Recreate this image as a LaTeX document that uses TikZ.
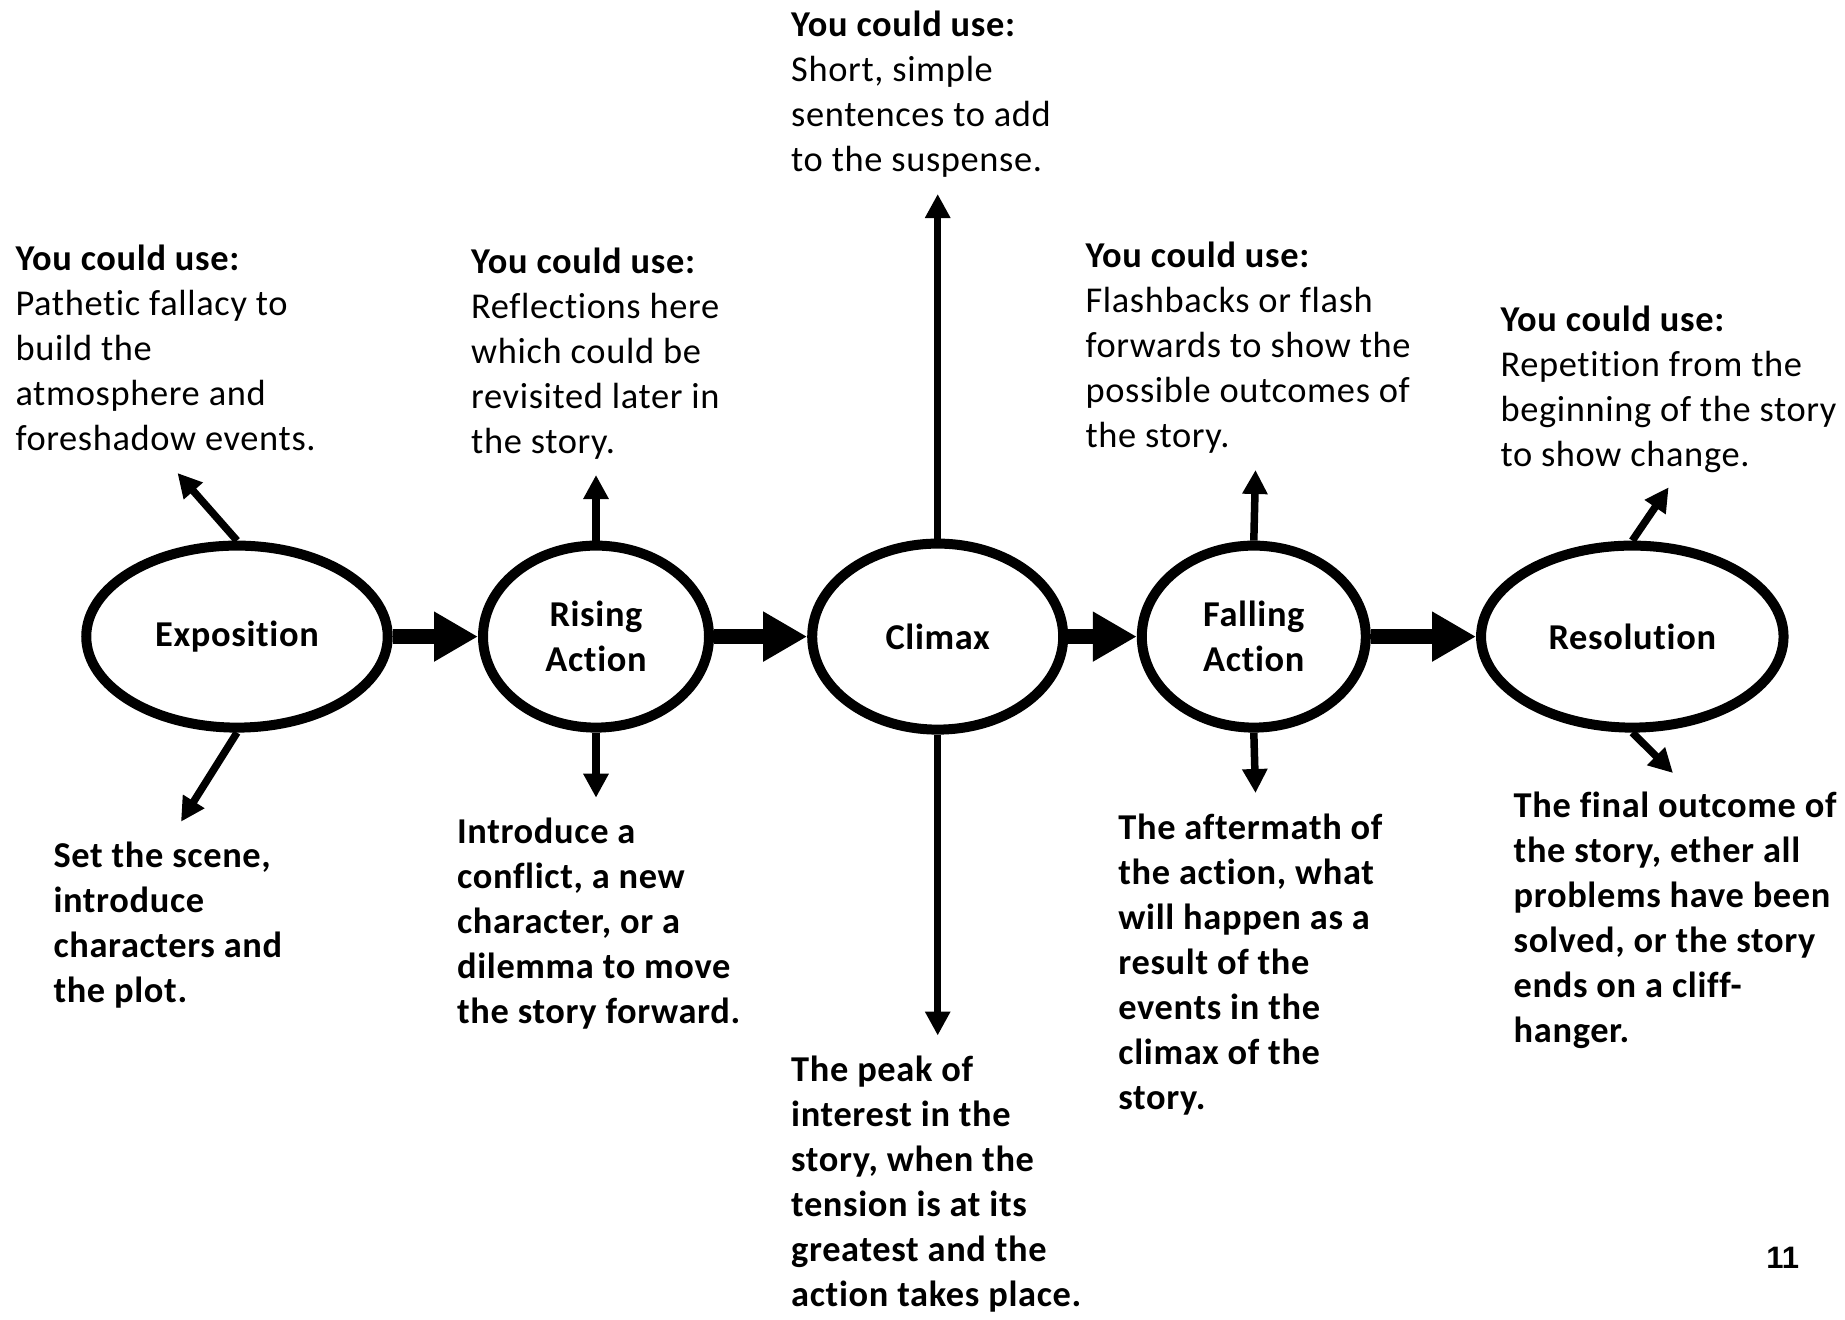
\documentclass[tikz,border=0pt]{standalone}
\usepackage{fontspec}
\setmainfont{Carlito}[Ligatures=NoCommon, LetterSpace=1.8]
\newfontfamily\arialfont{Liberation Sans}
\usetikzlibrary{arrows.meta,shapes.geometric}
% left-aligned block whose baseline is that of its first line
\newcommand\blk[1]{\begin{tabular}[t]{@{}l@{}}#1\end{tabular}}
\newcommand\bodyfont{\fontsize{14.56}{18}\selectfont}
\begin{document}
\begin{tikzpicture}[x=0.4pt,y=-0.4pt,
  stage/.style={ellipse, draw, line width=4pt, minimum height=72.8pt,
    inner sep=0pt, align=center, fill=white, font=\bodyfont\bfseries},
  flow/.style={line width=6pt, -{Triangle[length=17.6pt,width=18.8pt]}},
  hint/.style={line width=3pt, -{Triangle[length=9.6pt,width=9.6pt]}},
  txt/.style={anchor=base west, inner sep=0pt, font=\bodyfont},
  btxt/.style={anchor=base west, inner sep=0pt, font=\bodyfont\bfseries}]
\useasboundingbox (0,0) rectangle (1845,1319);

% stages of the story
\node[stage, minimum width=120.6pt] (expo) at (237,636.6) {Exposition};
\node[stage, minimum width=90.4pt] (rise) at (596,636.6) {Rising\\Action};
\node[stage, minimum width=100.4pt, minimum height=74.4pt] (clim) at (937.7,636.6) {Climax};
\node[stage, minimum width=89.6pt] (fall) at (1253.8,636.6) {Falling\\Action};
\node[stage, minimum width=121pt] (reso) at (1632.3,636.6) {Resolution};

% main flow
\draw[flow] (expo.east) -- (rise.west);
\draw[flow] (rise.east) -- (clim.west);
\draw[flow] (clim.east) -- (fall.west);
\draw[flow] (fall.east) -- (reso.west);

% ends of the side arrows
\coordinate (expoU) at (177.5,473);
\coordinate (expoD) at (181,821.7);
\coordinate (riseU) at (596,475);
\coordinate (riseD) at (596,797.7);
\coordinate (climU) at (937.7,194);
\coordinate (climD) at (937.7,1035.5);
\coordinate (fallU) at (1255.5,470);
\coordinate (fallD) at (1255.5,793);
\coordinate (resoU) at (1668.6,487.3);
\coordinate (resoD) at (1673,773);

\draw[hint] (expo.north) -- (expoU);
\draw[hint] (expo.south) -- (expoD);
\draw[hint] (rise.north) -- (riseU);
\draw[hint] (rise.south) -- (riseD);
\draw[hint] (clim.north) -- (climU);
\draw[hint] (clim.south) -- (climD);
\draw[hint] (fall.north) -- (fallU);
\draw[hint] (fall.south) -- (fallD);
\draw[hint] (reso.north) -- (resoU);
\draw[hint] (reso.south) -- (resoD);

% suggestions above
\node[txt] (expoT) at (15,270.6) {\blk{\textbf{You could use:}\\Pathetic fallacy to\\build the\\atmosphere and\\foreshadow events.}};
\node[txt] (riseT) at (470.7,273) {\blk{\textbf{You could use:}\\Reflections here\\which could be\\revisited later in\\the story.}};
\node[txt] (climT) at (790.7,36.5) {\blk{\textbf{You could use:}\\Short, simple\\sentences to add\\to the suspense.}};
\node[txt] (fallT) at (1085,267) {\blk{\textbf{You could use:}\\Flashbacks or flash\\forwards to show the\\possible outcomes of\\the story.}};
\node[txt] (resoT) at (1500,331.8) {\blk{\textbf{You could use:}\\Repetition from the\\beginning of the story\\to show change.}};

% descriptions below
\node[btxt] (expoB) at (53,867) {\blk{Set the scene,\\introduce\\characters and\\the plot.}};
\node[btxt] (riseB) at (456.6,843.7) {\blk{Introduce a\\conflict, a new\\character, or a\\dilemma to move\\the story forward.}};
\node[btxt] (climB) at (790.7,1081.4) {\blk{The peak of\\interest in the\\story, when the\\tension is at its\\greatest and the\\action takes place.}};
\node[btxt] (fallB) at (1117.9,839) {\blk{The aftermath of\\the action, what\\will happen as a\\result of the\\events in the\\climax of the\\story.}};
\node[btxt] (resoB) at (1513.2,817.8) {\blk{The final outcome of\\the story, ether all\\problems have been\\solved, or the story\\ends on a cliff-\\hanger.}};

% page number
\node[font=\fontsize{12.4}{15}\arialfont\bfseries, inner sep=0pt] (page) at (1782.7,1257.9) {11};
\end{tikzpicture}
\end{document}
